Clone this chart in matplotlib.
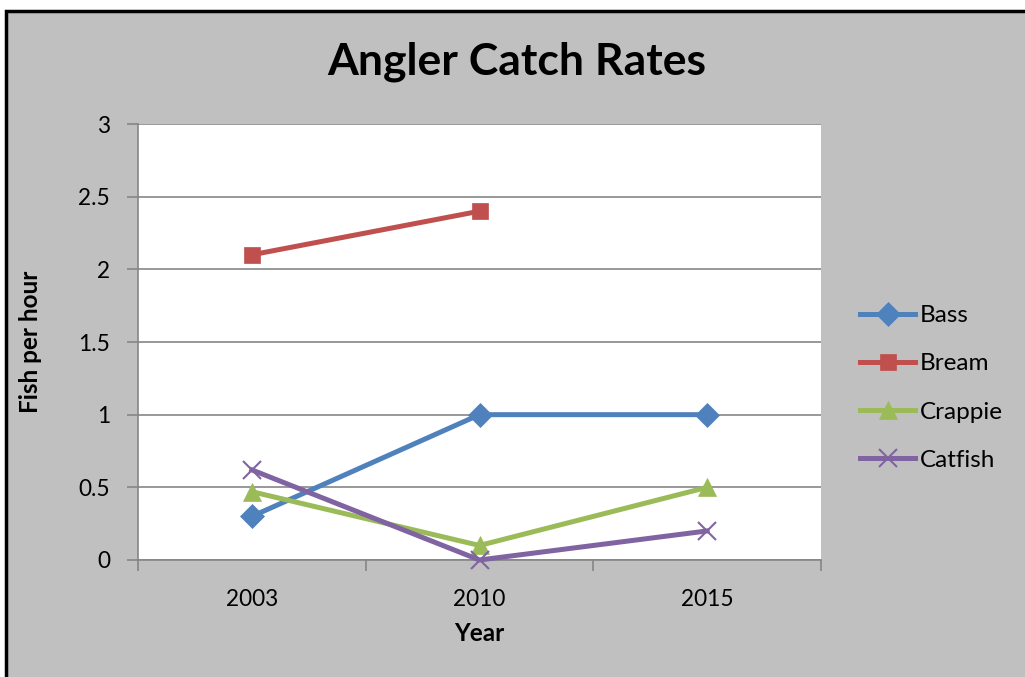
import matplotlib.pyplot as plt
from matplotlib.patches import Rectangle
from matplotlib.ticker import FixedLocator, FuncFormatter

# Data
years = ["2003", "2010", "2015"]
bass = [0.3, 1.0, 1.0]
bream = [2.1, 2.4, None]
crappie = [0.47, 0.1, 0.5]
catfish = [0.62, 0.0, 0.2]
y_ticks = [0, 0.5, 1, 1.5, 2, 2.5, 3]

plt.rcParams['font.family'] = ['Lato', 'DejaVu Sans']

if __name__ == "__main__":
    fig = plt.figure(figsize=(10.25, 6.77), dpi=100)
    fig.patch.set_facecolor("white")

    # gray chart area with black frame (cut off at right/bottom)
    frame = Rectangle((5.5 / 1025, -0.05), 1.2, 1 - 10.5 / 677 + 0.05,
                      transform=fig.transFigure, facecolor="#c0c0c0",
                      edgecolor="black", linewidth=2.5, zorder=-10)
    fig.patches.append(frame)

    ax = fig.add_axes([138 / 1025, 1 - 560 / 677, 683 / 1025, 436 / 677])
    ax.set_facecolor("white")

    x = list(range(len(years)))
    series = [
        ("Bass", bass, "#4f81bd", "D", 12),
        ("Bream", bream, "#c0504d", "s", 12),
        ("Crappie", crappie, "#9bbb59", "^", 13),
        ("Catfish", catfish, "#8064a2", "x", 13),
    ]
    for name, vals, color, marker, ms in series:
        xs = [xi for xi, v in zip(x, vals) if v is not None]
        ys = [v for v in vals if v is not None]
        ax.plot(xs, ys, color=color, linewidth=3.6, marker=marker,
                markersize=ms, markeredgewidth=1.5 if marker == "x" else 0.5,
                markeredgecolor=color, label=name, zorder=3, clip_on=False)

    ax.set_xlim(-0.5, 2.5)
    ax.set_ylim(0, 3)

    # category axis: labels at centers, tick marks at boundaries
    ax.set_xticks(x)
    ax.set_xticklabels(years)
    ax.xaxis.set_minor_locator(FixedLocator([-0.5, 0.5, 1.5, 2.5]))
    ax.tick_params(axis="x", which="major", length=0, pad=21, labelsize=16.3)
    ax.tick_params(axis="x", which="minor", length=8, width=1.2, color="#868686")

    ax.yaxis.set_major_locator(FixedLocator(y_ticks))
    ax.yaxis.set_major_formatter(FuncFormatter(lambda v, p: f"{v:g}"))
    ax.tick_params(axis="y", length=8, width=1.2, color="#868686", pad=12, labelsize=16.3)

    ax.grid(axis="y", color="#868686", linewidth=1.2)
    ax.set_axisbelow(True)
    for s in ["top", "right"]:
        ax.spines[s].set_visible(False)
    for s in ["left", "bottom"]:
        ax.spines[s].set_color("#868686")
        ax.spines[s].set_linewidth(1.2)

    ax.set_xlabel("Year", fontsize=17.5, fontweight="bold")
    ax.set_ylabel("Fish per hour", fontsize=17.5, fontweight="bold")
    ax.xaxis.set_label_coords(0.5, -0.142)
    ax.yaxis.set_label_coords(-0.14, 0.5)

    fig.text(517 / 1025, 1 - 62 / 677, "Angler Catch Rates", ha="center",
             va="center", fontsize=32, fontweight="bold")

    ax.legend(loc="center left", bbox_to_anchor=(860 / 1025, 1 - 388 / 677),
              bbox_transform=fig.transFigure, frameon=False, fontsize=17.5,
              handlelength=2.27, handletextpad=0.2, labelspacing=1.12,
              borderpad=0, borderaxespad=0)

    plt.savefig("out.png", dpi=100)
